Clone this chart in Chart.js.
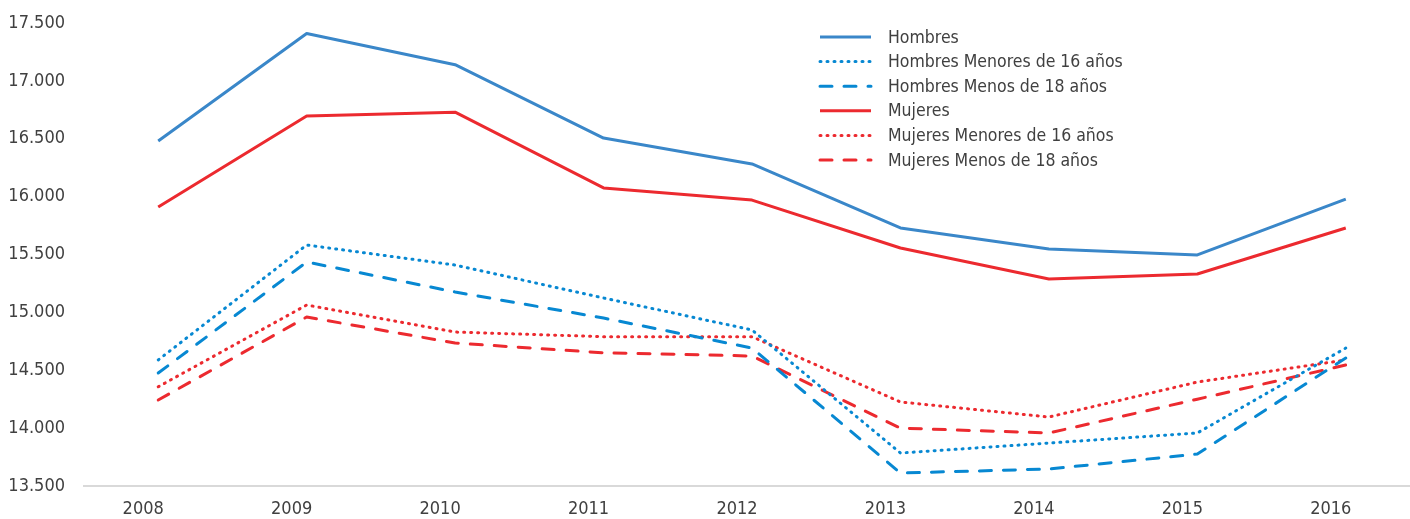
<!DOCTYPE html>
<html>
<head>
<meta charset="utf-8">
<script src="https://cdn.jsdelivr.net/npm/chart.js@4/dist/chart.umd.min.js"></script>
<style>
  html, body { margin: 0; padding: 0; background: #fff; overflow: hidden; }
  #caja { width: 1420px; height: 519px; }
</style>
</head>
<body>
<div id="caja"><canvas id="grafico" width="1420" height="519"></canvas></div>
<script>
const anios = ['2008', '2009', '2010', '2011', '2012', '2013', '2014', '2015', '2016'];
const etiquetasY = [13500, 14000, 14500, 15000, 15500, 16000, 16500, 17000, 17500];

const hombres = [16480, 17410, 17140, 16506, 16282, 15729, 15547, 15496, 15979];
const hombresMenores16 = [14589, 15582, 15409, 15124, 14848, 13785, 13871, 13958, 14692];
const hombresMenos18 = [14476, 15435, 15176, 14951, 14692, 13612, 13647, 13776, 14606];
const mujeres = [15910, 16697, 16730, 16075, 15970, 15556, 15289, 15332, 15729];
const mujeresMenores16 = [14357, 15064, 14830, 14790, 14790, 14226, 14096, 14398, 14589];
const mujeresMenos18 = [14243, 14960, 14735, 14651, 14623, 14000, 13958, 14250, 14545];

const azul = '#3a87c9';
const azulClaro = '#0788d2';
const rojo = '#ec2a2f';
const punteado = [1, 6];
const rayado = [12, 12];
const fuente = "'DejaVu Sans Condensed', 'Liberation Sans', sans-serif";
const colorTexto = '#404040';

function serie(label, data, color, dash) {
  return {
    label: label,
    data: data,
    borderColor: color,
    backgroundColor: color,
    borderWidth: 3,
    borderDash: dash,
    borderCapStyle: dash.length ? 'round' : 'butt',
    borderJoinStyle: 'round',
    pointRadius: 0,
    tension: 0,
    fill: false
  };
}

// leyenda dibujada dentro del area del grafico
const leyenda = {
  id: 'leyenda',
  afterDraw(chart) {
    const ctx = chart.ctx;
    ctx.save();
    ctx.font = '17.5px ' + fuente;
    ctx.textBaseline = 'middle';
    ctx.textAlign = 'left';
    chart.data.datasets.forEach((ds, i) => {
      const y = 37 + i * 24.6;
      ctx.beginPath();
      ctx.strokeStyle = ds.borderColor;
      ctx.lineWidth = 3;
      ctx.setLineDash(ds.borderDash);
      ctx.lineCap = ds.borderCapStyle;
      ctx.moveTo(820, y);
      ctx.lineTo(871, y);
      ctx.stroke();
      ctx.setLineDash([]);
      ctx.fillStyle = colorTexto;
      ctx.fillText(ds.label, 888, y + 1);
    });
    ctx.restore();
  }
};

new Chart(document.getElementById('grafico'), {
  type: 'line',
  data: {
    labels: anios,
    datasets: [
      serie('Hombres', hombres, azul, []),
      serie('Hombres Menores de 16 años', hombresMenores16, azulClaro, punteado),
      serie('Hombres Menos de 18 años', hombresMenos18, azulClaro, rayado),
      serie('Mujeres', mujeres, rojo, []),
      serie('Mujeres Menores de 16 años', mujeresMenores16, rojo, punteado),
      serie('Mujeres Menos de 18 años', mujeresMenos18, rojo, rayado)
    ]
  },
  options: {
    responsive: false,
    animation: false,
    layout: { padding: 0 },
    plugins: {
      legend: { display: false },
      tooltip: { enabled: false }
    },
    scales: {
      x: {
        offset: true,
        grid: { display: false, drawTicks: false },
        border: { display: true, color: '#d9d9d9', width: 2 },
        ticks: {
          color: colorTexto,
          font: { family: fuente, size: 18 },
          padding: 13,
          labelOffset: -15,
          maxRotation: 0
        },
        afterFit(scale) { scale.height = 33; }
      },
      y: {
        min: 13500,
        max: 17500,
        afterBuildTicks(scale) { scale.ticks = etiquetasY.map(v => ({ value: v })); },
        grid: { display: false, drawTicks: false },
        border: { display: false },
        ticks: {
          color: colorTexto,
          font: { family: fuente, size: 18 },
          padding: 19,
          callback: v => v.toLocaleString('de-DE')
        },
        afterFit(scale) {
          scale.width = 84;
          scale.paddingTop = 23;
          scale.paddingBottom = 0;
        }
      }
    }
  },
  plugins: [leyenda]
});
</script>
</body>
</html>
